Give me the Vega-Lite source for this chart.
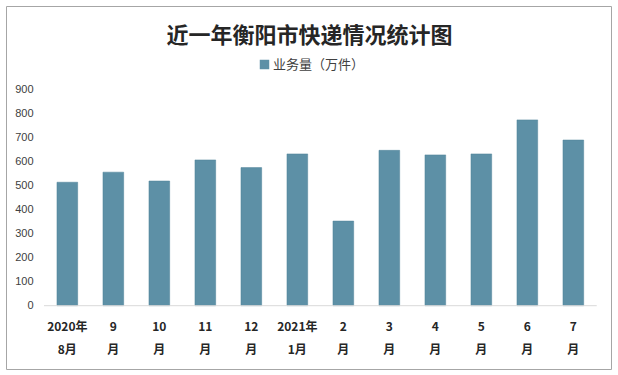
{
  "$schema": "https://vega.github.io/schema/vega-lite/v6.json",
  "width": 605,
  "height": 363,
  "autosize": {"type": "none"},
  "padding": {"left": 6, "top": 6, "right": 7, "bottom": 6},
  "background": "white",
  "config": {"view": {"stroke": "#a6a6a6", "strokeWidth": 1}, "font": "Noto Sans CJK SC"},
  "title": {
    "text": "近一年衡阳市快递情况统计图",
    "fontSize": 22,
    "font": "Noto Sans CJK SC",
    "fontWeight": "bold",
    "color": "#262626",
    "anchor": "middle",
    "frame": "group",
    "offset": -42,
    "dx": 1
  },
  "layer": [
    {
      "data": {
        "values": [
          {"month": "2020年\n8月", "value": 515, "series": "业务量（万件）"},
          {"month": "9\n月", "value": 557, "series": "业务量（万件）"},
          {"month": "10\n月", "value": 520, "series": "业务量（万件）"},
          {"month": "11\n月", "value": 608, "series": "业务量（万件）"},
          {"month": "12\n月", "value": 576, "series": "业务量（万件）"},
          {"month": "2021年\n1月", "value": 633, "series": "业务量（万件）"},
          {"month": "2\n月", "value": 353, "series": "业务量（万件）"},
          {"month": "3\n月", "value": 648, "series": "业务量（万件）"},
          {"month": "4\n月", "value": 629, "series": "业务量（万件）"},
          {"month": "5\n月", "value": 633, "series": "业务量（万件）"},
          {"month": "6\n月", "value": 775, "series": "业务量（万件）"},
          {"month": "7\n月", "value": 691, "series": "业务量（万件）"}
        ]
      },
      "mark": {"type": "bar", "stroke": "#4f8199", "strokeWidth": 0.5},
      "encoding": {
        "x": {
          "field": "month",
          "type": "nominal",
          "sort": null,
          "scale": {"paddingInner": 0.55, "paddingOuter": 0.851, "align": 0.651},
          "axis": {
            "orient": "bottom",
            "offset": -63.3,
            "domain": false,
            "ticks": false,
            "tickSize": 0,
            "grid": false,
            "labelAngle": 0,
            "labelPadding": 16,
            "labelFontSize": 12,
            "labelFontWeight": "bold",
            "labelColor": "#262626",
            "labelLineHeight": 23,
            "labelBaseline": "top",
            "labelExpr": "split(datum.label, '\\n')",
            "title": null
          }
        },
        "y": {
          "field": "value",
          "type": "quantitative",
          "scale": {"domain": [-264, 1250], "nice": false, "zero": false},
          "axis": {
            "values": [0, 100, 200, 300, 400, 500, 600, 700, 800, 900],
            "domain": false,
            "ticks": false,
            "tickSize": 0,
            "grid": false,
            "offset": -29,
            "labelPadding": 2,
            "labelFont": "Liberation Sans",
            "labelFontSize": 11,
            "labelColor": "#404040",
            "title": null
          }
        },
        "y2": {"datum": 0},
        "color": {
          "field": "series",
          "type": "nominal",
          "scale": {"range": ["#5d90a6"]},
          "legend": {
            "orient": "none",
            "legendX": 252,
            "legendY": 52,
            "title": null,
            "symbolType": "square",
            "symbolSize": 90,
            "symbolStrokeWidth": 0,
            "labelFontSize": 13,
            "labelColor": "#404040",
            "labelOffset": 2,
            "padding": 0
          }
        }
      }
    },
    {
      "data": {"values": [{}]},
      "mark": {"type": "rule", "color": "#d9d9d9", "strokeWidth": 1},
      "encoding": {
        "x": {"datum": "2020年\n8月", "bandPosition": -0.626},
        "x2": {"datum": "7\n月", "bandPosition": 1.63},
        "y": {"datum": 0}
      }
    }
  ]
}
